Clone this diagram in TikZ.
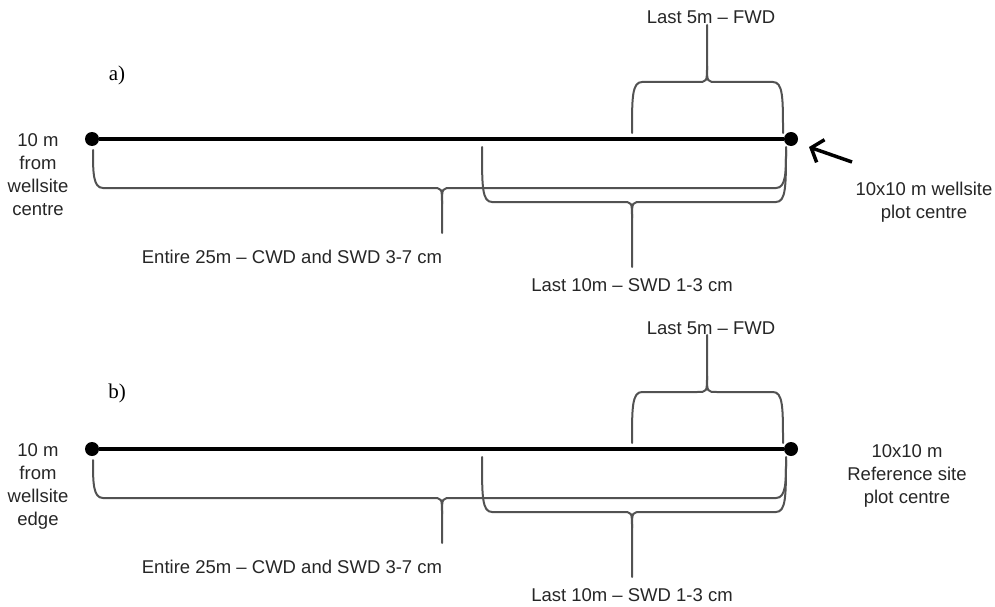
\documentclass[tikz,border=0pt]{standalone}
\usepackage{fontspec}
\setmainfont{Liberation Sans}
\newfontfamily\serifpart{Liberation Serif}
\usetikzlibrary{arrows.meta}
\tikzset{
  x=1pt, y=-1pt,
  lbl/.style={font=\fontsize{18.5}{22.7}\selectfont, text=black!85, inner sep=0pt, anchor=base, align=center},
  panellbl/.style={font=\serifpart\fontsize{21}{24}\selectfont, inner sep=0pt, anchor=base},
  enddot/.style={circle, fill=black, minimum size=14pt, inner sep=0pt},
  mainline/.style={line width=3.5pt, black},
  bracestyle/.style={line width=2pt, draw=black!68, line cap=round, line join=round},
  arrowline/.style={line width=3.5pt, -{Straight Barb[length=10pt,width=24pt,line width=3.5pt]}},
}
% down brace: xl, xr, xm, ytop, yh, ytip
\newcommand{\downbrc}[6]{%
  \draw[bracestyle] (#1,#4) .. controls (#1,{#5-16}) and (#1,#5) .. ({#1+10},#5) -- ({#3-10},#5)
     .. controls (#3,#5) .. (#3,{#5+16}) -- (#3,#6);
  \draw[bracestyle] (#2,#4) .. controls (#2,{#5-16}) and (#2,#5) .. ({#2-10},#5) -- ({#3+10},#5)
     .. controls (#3,#5) .. (#3,{#5+16});
}
% up brace: xl, xr, xm, ybottom, yh, ytip
\newcommand{\upbrc}[6]{%
  \draw[bracestyle] (#1,#4) .. controls (#1,{#5+16}) and (#1,#5) .. ({#1+10},#5) -- ({#3-10},#5)
     .. controls (#3,#5) .. (#3,{#5-16}) -- (#3,#6);
  \draw[bracestyle] (#2,#4) .. controls (#2,{#5+16}) and (#2,#5) .. ({#2-10},#5) -- ({#3+10},#5)
     .. controls (#3,#5) .. (#3,{#5-16});
}
\begin{document}
\begin{tikzpicture}
\useasboundingbox (0,0) rectangle (995,607);

% ---------------- panel a ----------------
\node[panellbl] (pa) at (117,81) {a)};
\upbrc{632}{783}{707}{133}{82}{25}
\downbrc{93}{786}{442}{150}{188}{233}
\downbrc{482}{786}{632}{147}{202}{267}
\node[enddot] (a1) at (92,139) {};
\node[enddot] (a2) at (791,139) {};
\draw[mainline] (a1) -- (a2);
\node[lbl] (a5m) at (711,24) {Last 5m -- FWD};
\node[lbl] (a25m) at (292,263) {Entire 25m -- CWD and SWD 3-7 cm};
\node[lbl] (a10m) at (632,291) {Last 10m -- SWD 1-3 cm};
\node[lbl] (aleft) at (38,215) {10 m\\from\\wellsite\\centre};
\node[lbl] (aright) at (924,218) {10x10 m wellsite\\plot centre};
\coordinate (atail) at (852,162);
\coordinate (atip) at (809,147);
\draw[arrowline] (atail) -- (atip);

% ---------------- panel b ----------------
\node[panellbl] (pb) at (117,398) {b)};
\upbrc{632}{783}{707}{443}{392}{335}
\downbrc{93}{786}{442}{460}{498}{543}
\downbrc{482}{786}{632}{457}{512}{577}
\node[enddot] (b1) at (92,449) {};
\node[enddot] (b2) at (791,449) {};
\draw[mainline] (b1) -- (b2);
\node[lbl] (b5m) at (711,334) {Last 5m -- FWD};
\node[lbl] (b25m) at (292,573) {Entire 25m -- CWD and SWD 3-7 cm};
\node[lbl] (b10m) at (632,601) {Last 10m -- SWD 1-3 cm};
\node[lbl] (bleft) at (38,525) {10 m\\from\\wellsite\\edge};
\node[lbl] (bright) at (907,503) {10x10 m\\Reference site\\plot centre};
\end{tikzpicture}
\end{document}
